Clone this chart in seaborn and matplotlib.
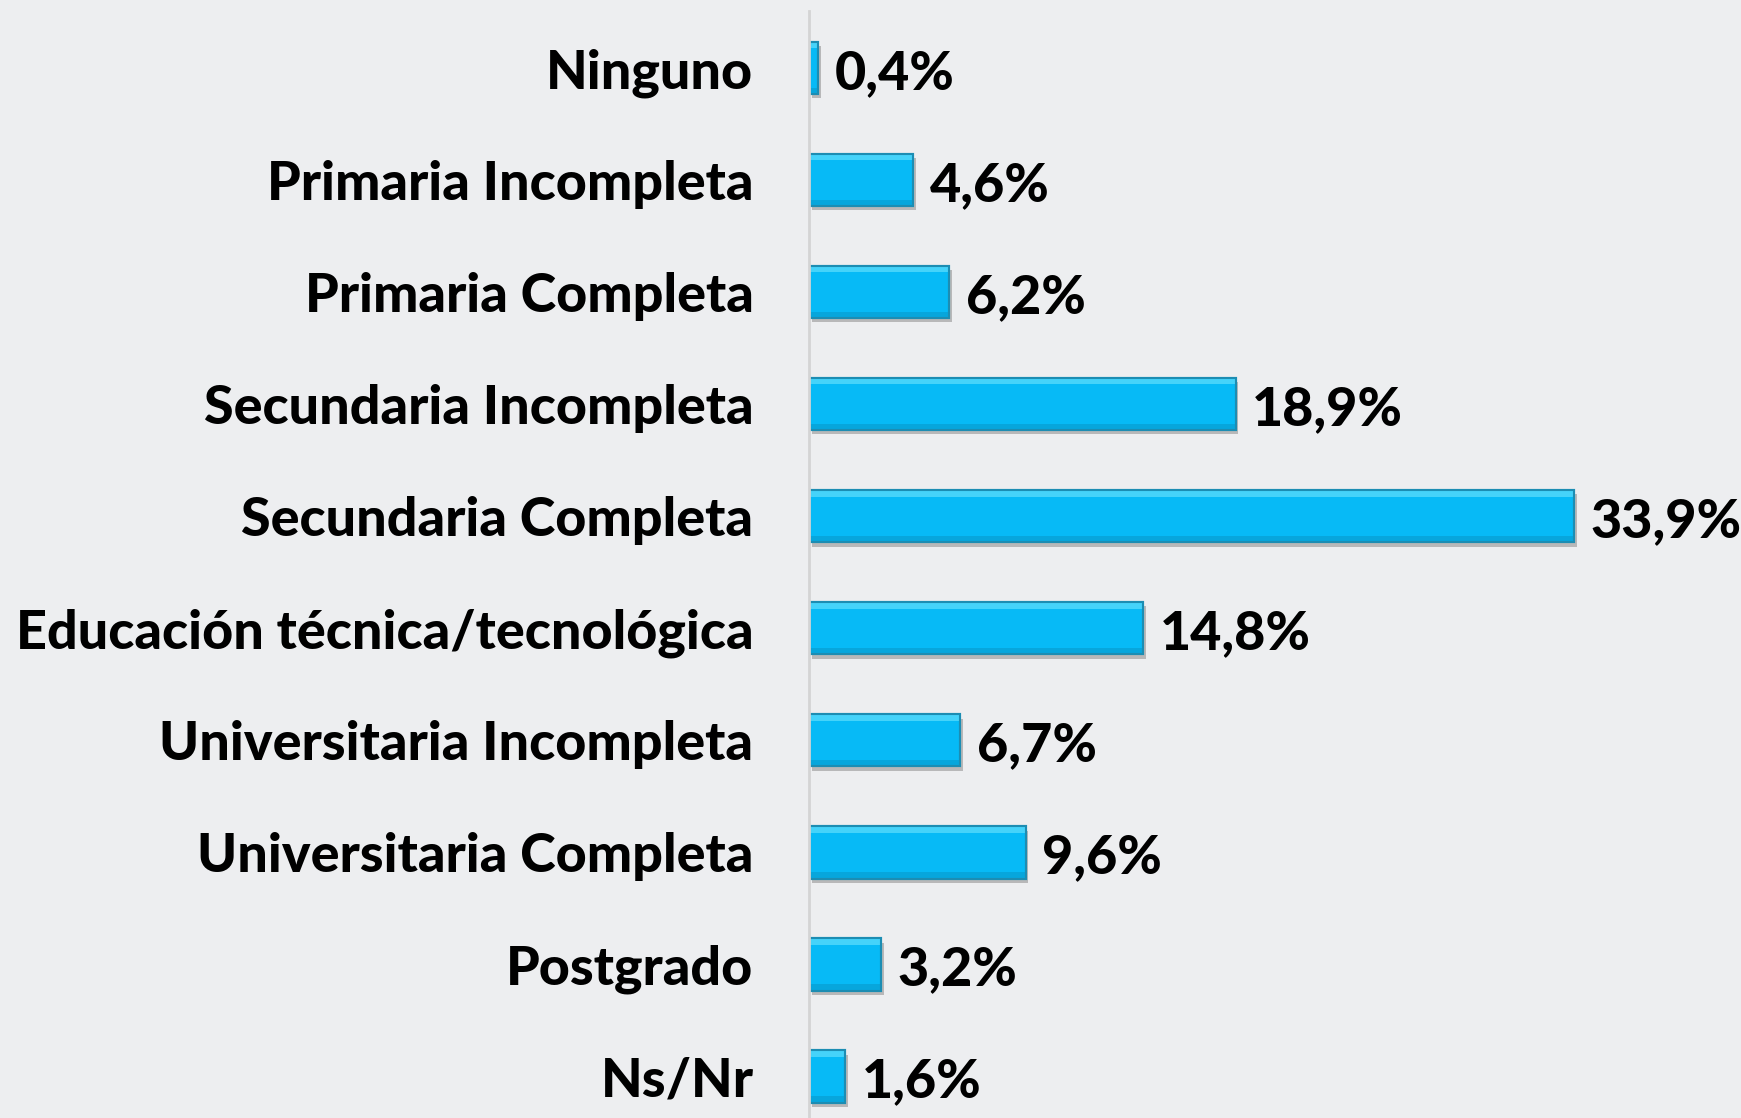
import matplotlib
matplotlib.use("Agg")
import matplotlib.pyplot as plt
import matplotlib.patheffects as pe
from matplotlib.patches import Rectangle
import seaborn as sns
import pandas as pd

categorias = ["Ninguno", "Primaria Incompleta", "Primaria Completa",
              "Secundaria Incompleta", "Secundaria Completa",
              "Educación técnica/tecnológica", "Universitaria Incompleta",
              "Universitaria Completa", "Postgrado", "Ns/Nr"]
porcentajes = [0.4, 4.6, 6.2, 18.9, 33.9, 14.8, 6.7, 9.6, 3.2, 1.6]
etiquetas = ["0,4%", "4,6%", "6,2%", "18,9%", "33,9%", "14,8%", "6,7%", "9,6%", "3,2%", "1,6%"]

df = pd.DataFrame({"nivel": categorias, "pct": porcentajes})

sns.set_style("white")
plt.rcParams["font.family"] = ["Lato", "DejaVu Sans"]

bg = "#EDEEF0"
fig = plt.figure(figsize=(17.41, 11.18), dpi=100, facecolor=bg)
ax = fig.add_axes([809 / 1741, 0, 1 - 809 / 1741, 1 - 11 / 1118])
ax.set_facecolor(bg)

sns.barplot(data=df, x="pct", y="nivel", orient="h", color="#07BAF6",
            width=0.465, edgecolor="#1C8DB3", linewidth=1.5, saturation=1, ax=ax)

barras = list(ax.patches)
for p in barras:
    p.set_path_effects([pe.SimplePatchShadow(offset=(2, -3), alpha=0.35, shadow_rgbFace="#555555"),
                        pe.Normal()])
    # bisel: franja clara arriba y oscura abajo
    x0, y0, w, h = p.get_x(), p.get_y(), p.get_width(), p.get_height()
    ax.add_patch(Rectangle((x0, y0), w, h * 0.12, facecolor="#45D3FA", edgecolor="none", zorder=p.get_zorder() + 0.1))
    ax.add_patch(Rectangle((x0, y0 + h * 0.88), w, h * 0.12, facecolor="#07A6DC", edgecolor="none", zorder=p.get_zorder() + 0.1))
    ax.add_patch(Rectangle((x0, y0), w, h, facecolor="none", edgecolor="#1C8DB3", linewidth=1.5, zorder=p.get_zorder() + 0.2))

for p, txt in zip(barras, etiquetas):
    ax.annotate(txt, (p.get_width(), p.get_y() + p.get_height() / 2),
                xytext=(12, -4), textcoords="offset points", va="center", ha="left",
                fontsize=38.8, fontweight="black", color="black")

ax.set_xlim(0, 41.3)
ax.set_ylim(9.37, -0.51)
ax.set_xlabel("")
ax.set_ylabel("")
ax.set_xticks([])
ax.tick_params(axis="y", length=0, pad=40)
for lbl in ax.get_yticklabels():
    lbl.set_fontsize(38.8)
    lbl.set_fontweight("black")
    lbl.set_color("black")
for s in ["top", "right", "bottom"]:
    ax.spines[s].set_visible(False)
ax.spines["left"].set_color("#D4D4D4")
ax.spines["left"].set_linewidth(2)

fig.savefig("out.png", dpi=100, facecolor=bg)
